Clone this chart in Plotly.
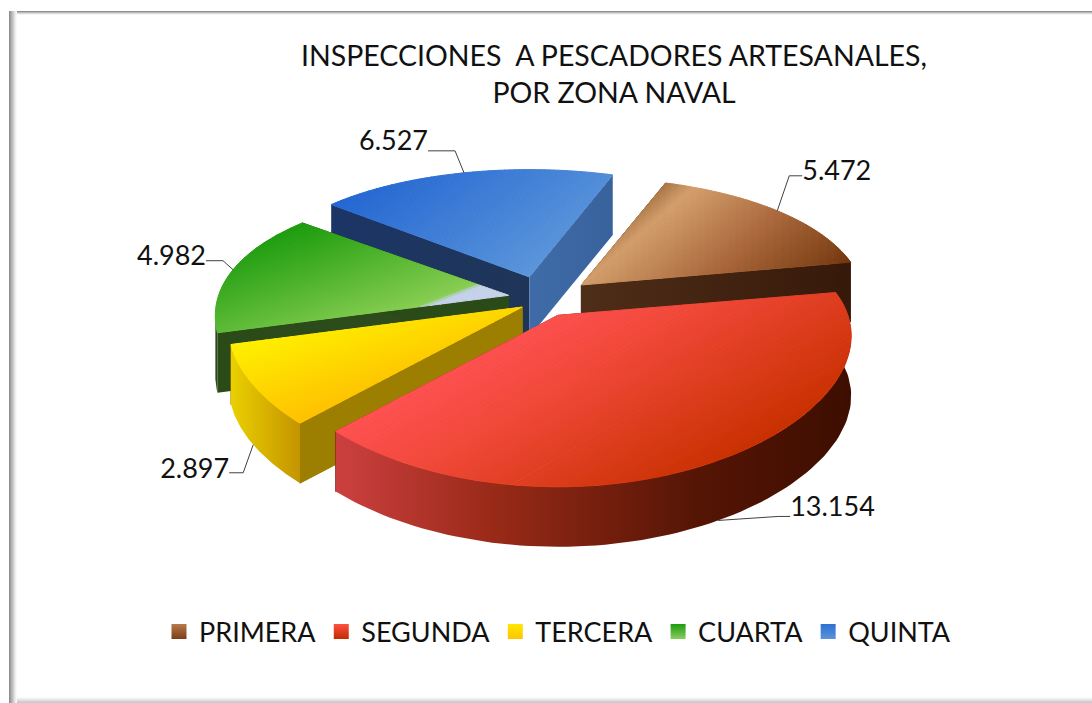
import math
import plotly.graph_objects as go

# ---- data -------------------------------------------------------------
zonas = ["PRIMERA", "SEGUNDA", "TERCERA", "CUARTA", "QUINTA"]
inspecciones = [5472, 13154, 2897, 4982, 6527]
etiquetas = ["5.472", "13.154", "2.897", "4.982", "6.527"]
titulo = "INSPECCIONES  A PESCADORES ARTESANALES,<br>POR ZONA NAVAL"

# ---- styling ----------------------------------------------------------
FONT = "Lato"
W, H_PAGE = 1092, 703
CX, CY = 537, 298          # centre of the pie on the page
RX, RY = 290, 132          # disc radii
PERSP_X, PERSP_Y = 0.15, 0.23   # perspective strength
DEPTH = 60                 # thickness
START = 20                 # first slice starts here (deg clockwise from back)
pull = [0.20, 0.15, 0.06, 0.10, 0.15]
nudge = [(0, 4), (0, 0), (0, 5), (0, 0), (4, -2)]
x_scale = [0.97, 1, 1, 1, 0.96]
draw_order = [4, 3, 0, 2, 1]

top_dir = [(.65, .75), (.5, .85), (.3, .95), (.36, .93), (.6, .8)]
top_stops = [
    [(0, "#A87544"), (.12, "#D39E6C"), (.55, "#A9673A"), (1, "#74380F")],
    [(0, "#FF5252"), (.35, "#F04838"), (1, "#C83000")],
    [(0, "#FFF200"), (1, "#FFC000")],
    [(0, "#1C9C0E"), (.84, "#88CE52"), (.87, "#C4D2EA"), (1, "#C8D4EC")],
    [(0, "#2366D2"), (1, "#5B95DA")],
]
wall_start = ["#4A2A16", "#7A2010", "#9C7E00", "#2A4A18", "#1E3560"]
wall_end = ["#4A2A16", "#7A2010", "#9C7E00", "#2A4A18", "#3F6CA8"]
wall_start_scale = [None, None, None, [[0, "#2A4A18"], [.72, "#2E4C1C"], [.8, "#55586A"], [1, "#55586A"]],
                    [[0, "#1C3566"], [1, "#1F3558"]]]
wall_end_scale = [[[0, "#4E2E18"], [1, "#37190A"]], None, None, None,
                  [[0, "#3F6CA8"], [1, "#38629C"]]]
rim_scale = [
    [[0, "#37190A"], [1, "#37190A"]],
    [[0, "#CC4040"], [.3, "#9A2A18"], [.7, "#551505"], [1, "#3D0E00"]],
    [[0, "#EAD000"], [1, "#C49400"]],
    [[0, "#2A4A18"], [1, "#2A4A18"]],
    [[0, "#3F6CA8"], [1, "#3F6CA8"]],
]
legend_cols = ["#B87A4A", "#FF5040", "#FFE800", "#1C9C0E", "#2E70D4"]
legend_ends = ["#7A3E18", "#C02C00", "#FFC400", "#8ACE60", "#5B95DA"]
# leader geometry relative to the rim anchor: elbow dx, dy, end dx, label dy
leader = [(12, -35, 25, -3), (60, -4, 72, -7), (-10, 28, -24, -2), (-10, -9, -27, -2), (-9, -22, -36, -8)]
FRONT = (72, 260)          # part of the rim that faces the viewer


def project(deg, apex, sx=1):
    t = math.radians(deg)
    X, Y = math.sin(t), math.cos(t)
    return (apex[0] + sx * RX * X / (1 + PERSP_X * Y),
            apex[1] - RY * Y / (1 + PERSP_Y * Y))


def lerp_color(stops, f):
    f = max(0, min(1, f))
    for (a, ca), (b, cb) in zip(stops, stops[1:]):
        if f <= b:
            k = 0 if b == a else (f - a) / (b - a)
            c = [round(int(ca[i:i+2], 16) * (1 - k) + int(cb[i:i+2], 16) * k) for i in (1, 3, 5)]
            return "rgb(%d,%d,%d)" % tuple(c)
    return stops[-1][1]


def clip(poly, d, lim, keep_above):
    out = []
    sgn = 1 if keep_above else -1
    n = len(poly)
    for i in range(n):
        p, q = poly[i], poly[(i + 1) % n]
        tp = sgn * (p[0] * d[0] + p[1] * d[1] - lim)
        tq = sgn * (q[0] * d[0] + q[1] * d[1] - lim)
        if tp >= 0:
            out.append(p)
        if tp * tq < 0:
            k = tp / (tp - tq)
            out.append((p[0] + (q[0] - p[0]) * k, p[1] + (q[1] - p[1]) * k))
    return out


fig = go.Figure()


def add_grad(poly, scale):
    xs = [p[0] for p in poly] + [poly[0][0]]
    ys = [p[1] for p in poly] + [poly[0][1]]
    fig.add_trace(go.Scatter(x=xs, y=ys, mode="lines", line=dict(width=0), fill="toself",
                             fillgradient=dict(type="horizontal", colorscale=scale),
                             showlegend=False, hoverinfo="skip"))


def add_flat(poly, col):
    xs = [p[0] for p in poly] + [poly[0][0]]
    ys = [p[1] for p in poly] + [poly[0][1]]
    fig.add_trace(go.Scatter(x=xs, y=ys, mode="lines", line=dict(width=1, color=col), fill="toself",
                             fillcolor=col, showlegend=False, hoverinfo="skip"))


# slice angles
total = sum(inspecciones)
angles = []
a = START
for v in inspecciones:
    b = a + 360 * v / total
    angles.append((a, b))
    a = b

apexes = []
for i, (a, b) in enumerate(angles):
    m = math.radians((a + b) / 2)
    apexes.append((CX + pull[i] * RX * math.sin(m) + nudge[i][0],
                   CY - pull[i] * RY * math.cos(m) + nudge[i][1]))

for i in draw_order:
    a, b = angles[i]
    ap = apexes[i]
    n = 90
    degs = [a + (b - a) * k / n for k in range(n + 1)]
    arc = [project(d_, ap, x_scale[i]) for d_ in degs]
    low = lambda p: (p[0], p[1] + DEPTH)
    # cut walls
    for pt, col, sc in ((arc[0], wall_start[i], wall_start_scale[i]), (arc[-1], wall_end[i], wall_end_scale[i])):
        poly = [ap, pt, low(pt), low(ap)]
        if sc:
            add_grad(poly, sc)
        else:
            add_flat(poly, col)
    # outer wall, only where it faces the viewer
    front = [p for d_, p in zip(degs, arc) if FRONT[0] <= d_ % 360 <= FRONT[1]]
    if len(front) >= 2:
        add_grad(front + [low(p) for p in reversed(front)], rim_scale[i])
    # top surface in narrow bands along the lighting direction
    top = [ap] + arc
    d = top_dir[i]
    ts = [p[0] * d[0] + p[1] * d[1] for p in top]
    t0, t1 = min(ts), max(ts)
    bands = 60
    for k in range(bands):
        lo = t0 + (t1 - t0) * k / bands
        hi = t0 + (t1 - t0) * (k + 1) / bands
        piece = clip(clip(top, d, lo, True), d, hi, False)
        if len(piece) >= 3:
            add_flat(piece, lerp_color(top_stops[i], (k + .5) / bands))

# leader lines and value labels
for i, (a, b) in enumerate(angles):
    m = (a + b) / 2
    p = project(m, apexes[i], x_scale[i])
    y0 = p[1] + (DEPTH if 90 < m < 270 else 0)
    ex, ey, tx, ly = leader[i]
    fig.add_trace(go.Scatter(x=[p[0], p[0] + ex, p[0] + tx], y=[y0, y0 + ey, y0 + ey], mode="lines",
                             line=dict(color="#404040", width=1), showlegend=False, hoverinfo="skip"))
    fig.add_trace(go.Scatter(x=[p[0] + tx], y=[y0 + ey + ly], mode="text", text=[etiquetas[i]],
                             textposition="middle right" if tx > 0 else "middle left",
                             textfont=dict(family=FONT, size=27, color="#111111"),
                             showlegend=False, hoverinfo="skip"))

# legend entries
for name, col, end in zip(zonas, legend_cols, legend_ends):
    fig.add_trace(go.Scatter(x=[None], y=[None], mode="markers", name=name,
                             marker=dict(symbol="square", size=15, color=col,
                                         gradient=dict(type="vertical", color=end))))

# frame with a soft bevel
shapes = []
left = ["#8F8F8F", "#A0A0A0", "#B0B0B0", "#C0C0C0", "#D0D0D0", "#E0E0E0", "#EEEEEE", "#F8F8F8"]
for k, c in enumerate(["#909090", "#B8B8B8", "#DCDCDC", "#F4F4F4"]):
    shapes.append(dict(type="rect", x0=9, x1=1092, y0=11 + k, y1=12 + k, fillcolor=c, line_width=0, layer="below"))
for k, c in enumerate(["#FAFAFA", "#F2F2F2", "#E8E8E8", "#DDDDDD", "#D2D2D2", "#C8C8C8"]):
    shapes.append(dict(type="rect", x0=9, x1=1092, y0=697 + k, y1=698 + k, fillcolor=c, line_width=0, layer="below"))
for k, c in enumerate(left):
    shapes.append(dict(type="rect", x0=9 + k, x1=10 + k, y0=11, y1=703, fillcolor=c, line_width=0, layer="below"))

fig.update_layout(
    width=W, height=H_PAGE, margin=dict(l=0, r=0, t=0, b=0),
    paper_bgcolor="white", plot_bgcolor="white", shapes=shapes,
    xaxis=dict(range=[0, W], visible=False, fixedrange=True),
    yaxis=dict(range=[H_PAGE, 0], visible=False, fixedrange=True),
    title=dict(text=titulo, x=614 / W, xanchor="center", y=1 - 66 / H_PAGE, yanchor="middle",
               font=dict(family=FONT, size=28.5, color="#111111")),
    legend=dict(orientation="h", x=159 / W, xanchor="left", y=1 - 632 / H_PAGE, yanchor="middle",
                font=dict(family=FONT, size=27, color="#111111"), bgcolor="rgba(0,0,0,0)",
                itemclick=False, itemdoubleclick=False),
)

fig.write_html("out.html", config={"displayModeBar": False},
               post_script="document.body.style.margin='0';document.body.style.overflow='hidden';")
